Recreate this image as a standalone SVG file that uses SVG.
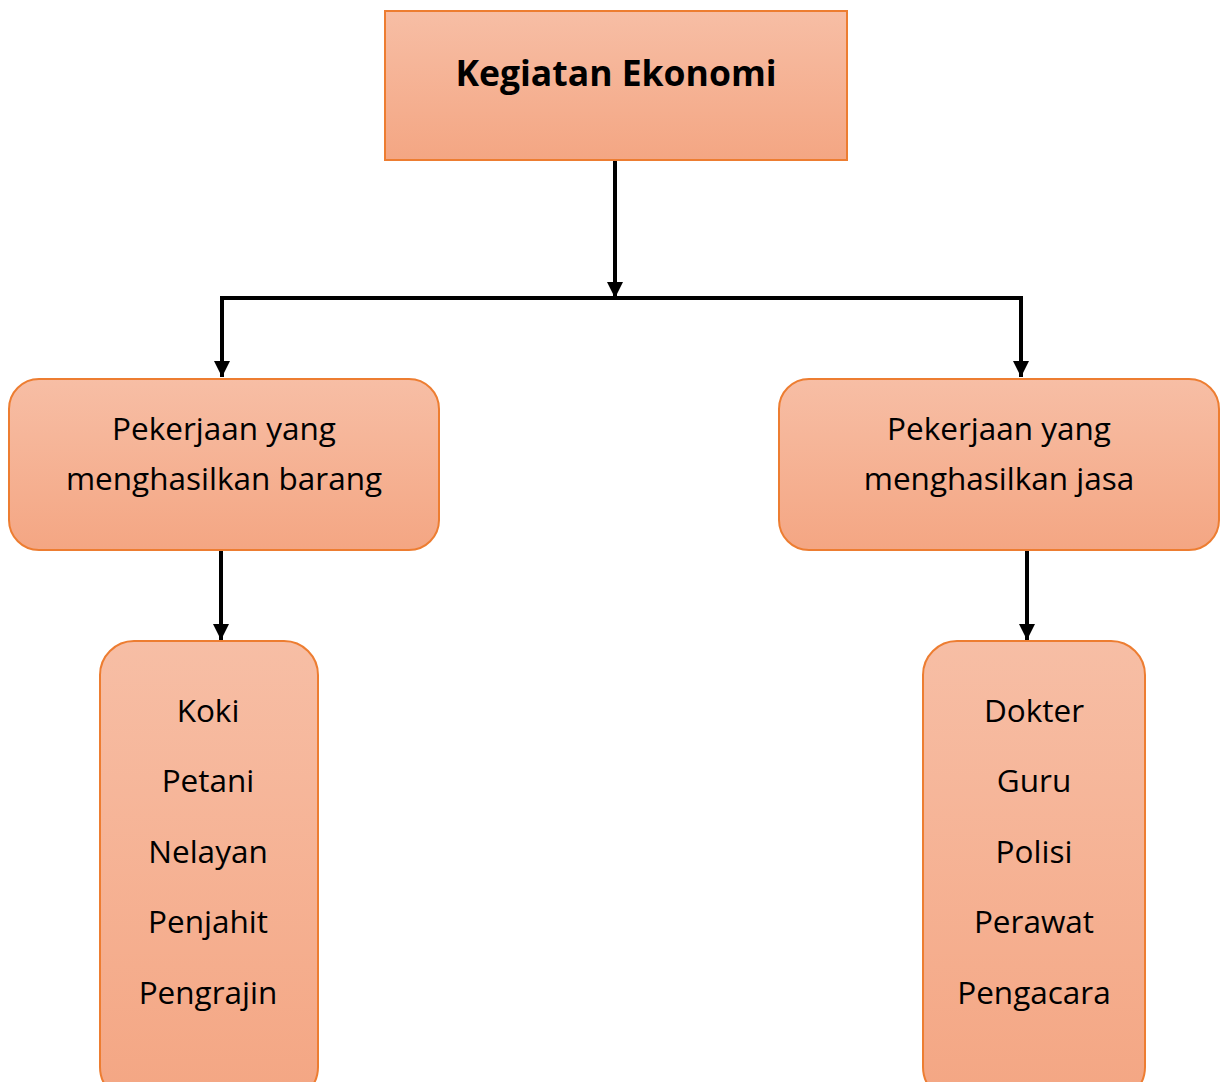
<svg xmlns="http://www.w3.org/2000/svg" width="1220" height="1082" viewBox="0 0 1220 1082">
<defs>
<linearGradient id="g" x1="0" y1="0" x2="0" y2="1">
<stop offset="0" stop-color="#F7BEA5"/>
<stop offset="1" stop-color="#F4A683"/>
</linearGradient>
<marker id="arr" viewBox="0 0 10 10" refX="10" refY="5" markerWidth="4" markerHeight="4" orient="auto" markerUnits="strokeWidth">
<path d="M0,0 L10,5 L0,10 Z" fill="#000"/>
</marker>
<style>
.box{fill:url(#g);stroke:#ED7D31;stroke-width:2}
.t{font-family:"Open Sans","Liberation Sans",sans-serif;font-size:31.5px;fill:#000;text-anchor:middle}
.b{font-weight:bold;font-size:35.5px}
.c{fill:none;stroke:#000;stroke-width:4}
</style>
</defs>
<rect width="1220" height="1082" fill="#fff"/>
<g id="connectors">
<line class="c" x1="615" y1="160" x2="615" y2="298" marker-end="url(#arr)"/>
<line class="c" x1="220" y1="298" x2="1023" y2="298"/>
<line class="c" x1="222" y1="298" x2="222" y2="377" marker-end="url(#arr)"/>
<line class="c" x1="1021" y1="298" x2="1021" y2="377" marker-end="url(#arr)"/>
<line class="c" x1="221" y1="550" x2="221" y2="640" marker-end="url(#arr)"/>
<line class="c" x1="1027" y1="550" x2="1027" y2="640" marker-end="url(#arr)"/>
</g>
<g id="root">
<rect class="box" x="385" y="11" width="462" height="149"/>
<text class="t b" x="616" y="86">Kegiatan Ekonomi</text>
</g>
<g id="barang">
<rect class="box" x="9" y="379" width="430" height="171" rx="30"/>
<text class="t" x="224" y="440">Pekerjaan yang</text>
<text class="t" x="224" y="490">menghasilkan barang</text>
</g>
<g id="jasa">
<rect class="box" x="779" y="379" width="440" height="171" rx="30"/>
<text class="t" x="999" y="440">Pekerjaan yang</text>
<text class="t" x="999" y="490">menghasilkan jasa</text>
</g>
<g id="barang-list">
<rect class="box" x="100" y="641" width="218" height="460" rx="34"/>
<text class="t" x="208" y="722">Koki</text>
<text class="t" x="208" y="792">Petani</text>
<text class="t" x="208" y="863">Nelayan</text>
<text class="t" x="208" y="933">Penjahit</text>
<text class="t" x="208" y="1004">Pengrajin</text>
</g>
<g id="jasa-list">
<rect class="box" x="923" y="641" width="222" height="460" rx="34"/>
<text class="t" x="1034" y="722">Dokter</text>
<text class="t" x="1034" y="792">Guru</text>
<text class="t" x="1034" y="863">Polisi</text>
<text class="t" x="1034" y="933">Perawat</text>
<text class="t" x="1034" y="1004">Pengacara</text>
</g>
</svg>
